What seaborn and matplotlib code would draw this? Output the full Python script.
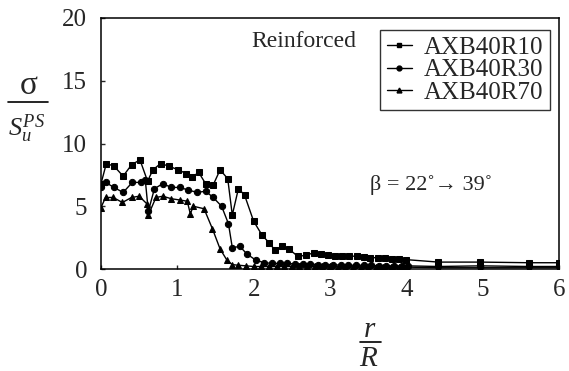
import matplotlib
matplotlib.use("Agg")
import matplotlib.pyplot as plt
from matplotlib.lines import Line2D
import seaborn as sns
import pandas as pd

# Normalised stress sigma / S_u^PS against normalised radius r / R
r10_r = [0.0, 0.07, 0.17, 0.29, 0.40, 0.51, 0.61, 0.68, 0.78, 0.89,
         1.01, 1.12, 1.19, 1.28, 1.37, 1.47, 1.56, 1.66, 1.72, 1.80,
         1.88, 2.00, 2.11, 2.20, 2.28, 2.37, 2.46, 2.58, 2.69, 2.79,
         2.88, 2.97, 3.07, 3.16, 3.25, 3.35, 3.44, 3.53, 3.63, 3.72,
         3.81, 3.90, 3.99, 4.42, 4.97, 5.61, 6.0]
r10_s = [6.8, 8.4, 8.2, 7.4, 8.3, 8.7, 7.0, 7.9, 8.4, 8.2,
         7.9, 7.6, 7.3, 7.7, 6.8, 6.7, 7.9, 7.2, 4.3, 6.4,
         5.9, 3.8, 2.7, 2.1, 1.5, 1.8, 1.6, 1.0, 1.1, 1.3,
         1.2, 1.1, 1.0, 1.0, 1.05, 1.0, 0.95, 0.9, 0.9, 0.85,
         0.8, 0.8, 0.75, 0.55, 0.55, 0.5, 0.5]

r30_r = [0.0, 0.06, 0.17, 0.29, 0.41, 0.52, 0.58, 0.62, 0.70, 0.81,
         0.92, 1.03, 1.14, 1.26, 1.37, 1.47, 1.58, 1.67, 1.72, 1.82,
         1.91, 2.03, 2.14, 2.24, 2.34, 2.44, 2.54, 2.64, 2.74, 2.84,
         2.94, 3.04, 3.14, 3.24, 3.34, 3.44, 3.54, 3.64, 3.74, 3.84,
         3.94, 4.02, 4.42, 4.97, 5.61, 6.0]
r30_s = [6.5, 6.9, 6.5, 6.1, 6.9, 6.9, 7.1, 4.6, 6.4, 6.8,
         6.5, 6.5, 6.3, 6.1, 6.2, 5.7, 5.0, 3.6, 1.7, 1.8,
         1.2, 0.7, 0.5, 0.45, 0.45, 0.45, 0.4, 0.4, 0.4, 0.35,
         0.35, 0.35, 0.3, 0.3, 0.3, 0.3, 0.3, 0.25, 0.25, 0.25,
         0.25, 0.25, 0.2, 0.25, 0.2, 0.2]

r70_r = [0.0, 0.06, 0.16, 0.28, 0.40, 0.50, 0.60, 0.62, 0.72, 0.81,
         0.92, 1.03, 1.13, 1.17, 1.21, 1.35, 1.46, 1.56, 1.65, 1.72,
         1.80, 1.90, 2.0, 2.1, 2.2, 2.3, 2.4, 2.5, 2.6, 2.7,
         2.8, 2.9, 3.0, 3.1, 3.2, 3.3, 3.4, 3.5, 3.6, 3.7,
         3.8, 3.9, 4.0, 4.42, 4.97, 5.61, 6.0]
r70_s = [4.9, 5.7, 5.7, 5.3, 5.7, 5.8, 5.2, 4.3, 5.7, 5.8,
         5.6, 5.5, 5.4, 4.4, 5.0, 4.8, 3.2, 1.6, 0.7, 0.35,
         0.3, 0.25, 0.2, 0.2, 0.2, 0.2, 0.2, 0.2, 0.2, 0.2,
         0.2, 0.2, 0.2, 0.15, 0.15, 0.15, 0.15, 0.15, 0.15, 0.15,
         0.15, 0.15, 0.15, 0.1, 0.1, 0.1, 0.1]

series_names = ["AXB40R10", "AXB40R30", "AXB40R70"]
x_ticks = [0, 1, 2, 3, 4, 5, 6]
y_ticks = [0, 5, 10, 15, 20]

frames = []
for name, rr, ss in zip(series_names, [r10_r, r30_r, r70_r], [r10_s, r30_s, r70_s]):
    frames.append(pd.DataFrame({"r": rr, "stress": ss, "specimen": name}))
df = pd.concat(frames, ignore_index=True)

sns.set_style("ticks", {"xtick.direction": "in", "ytick.direction": "in"})
plt.rcParams["font.family"] = ["Liberation Serif", "DejaVu Serif"]
plt.rcParams["mathtext.fontset"] = "custom"
plt.rcParams["mathtext.rm"] = "Liberation Serif"
plt.rcParams["mathtext.it"] = "Liberation Serif:italic"

W, H = 569, 371
fig = plt.figure(figsize=(W / 100, H / 100), dpi=100)
ax = fig.add_axes([101 / W, 1 - 269 / H, (559 - 101) / W, (269 - 18) / H])

markers = {"AXB40R10": "s", "AXB40R30": "o", "AXB40R70": "^"}
sns.lineplot(data=df, x="r", y="stress", hue="specimen", style="specimen",
             markers=markers, dashes=False, sort=False, estimator=None,
             palette=["black"] * 3, linewidth=1.0, markersize=4.5,
             markeredgecolor="black", legend=False, ax=ax)

ax.set_xlim(0, 6)
ax.set_ylim(0, 20)
ax.set_xticks(x_ticks)
ax.set_yticks(y_ticks)
ax.tick_params(direction="in", length=3, width=1, labelsize=18,
               top=False, right=False)
ax.tick_params(axis="y", pad=10)
ax.tick_params(axis="x", pad=7)
ax.set_xlabel("")
ax.set_ylabel("")
for sp in ax.spines.values():
    sp.set_visible(True)
    sp.set_linewidth(1.1)
    sp.set_color("black")

handles = [Line2D([], [], color="black", lw=1.0, marker=markers[n],
                  markersize=3.5) for n in series_names]
leg = ax.legend(handles, series_names, loc="upper right",
                bbox_to_anchor=(0.98, 0.952), borderaxespad=0,
                fontsize=18, frameon=True, fancybox=False,
                handlelength=1.0, handletextpad=0.5, labelspacing=0.0,
                borderpad=0.25)
leg.get_frame().set_edgecolor("black")
leg.get_frame().set_linewidth(1.0)

ax.text(1.97, 17.7, "Reinforced", fontsize=17, va="baseline", ha="left")
ax.text(3.52, 6.7, "β = 22˚→ 39˚", fontsize=16, va="center", ha="left")

# fraction labels on both axes
def ftext(px, py, s, **kw):
    fig.text(px / W, 1 - py / H, s, **kw)

def fbar(x0, x1, py):
    fig.add_artist(Line2D([x0 / W, x1 / W], [1 - py / H, 1 - py / H],
                          transform=fig.transFigure, color="black", lw=1.2))

ftext(29, 94, "σ", fontsize=24, ha="center", va="baseline")
fbar(8, 48, 101.5)
ftext(27, 136, r"$S_u^{PS}$", fontsize=19, ha="center", va="baseline")

ftext(370, 337, r"$r$", fontsize=21, ha="center", va="baseline")
fbar(360, 381, 342)
ftext(369, 366, r"$R$", fontsize=21, ha="center", va="baseline")

fig.savefig("out.png", dpi=100)
